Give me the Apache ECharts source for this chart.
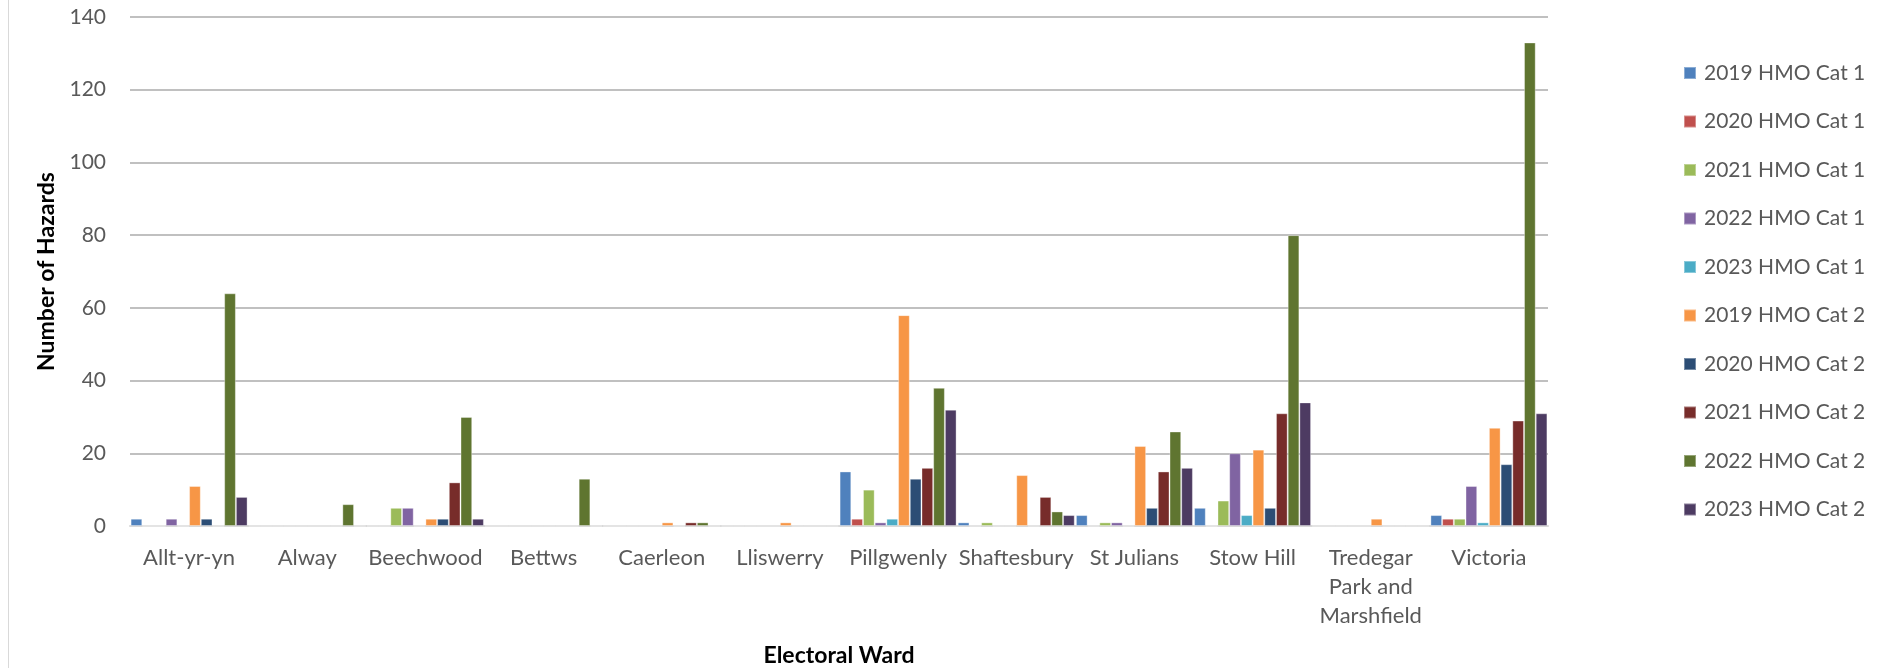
<!DOCTYPE html>
<html>
<head>
<meta charset="utf-8">
<script src="https://cdn.jsdelivr.net/npm/echarts@6/dist/echarts.min.js"></script>
<style>
html,body{margin:0;padding:0;background:#fff;}
#chart{width:1883px;height:668px;}
#border{position:absolute;left:8px;top:0;width:1px;height:668px;background:#D9D9D9;}
</style>
</head>
<body>
<div id="border"></div>
<div id="chart"></div>
<script>
const categories = ['Allt-yr-yn','Alway','Beechwood','Bettws','Caerleon','Lliswerry','Pillgwenly','Shaftesbury','St Julians','Stow Hill','Tredegar\nPark and\nMarshfield','Victoria'];
const seriesNames = ['2019 HMO Cat 1','2020 HMO Cat 1','2021 HMO Cat 1','2022 HMO Cat 1','2023 HMO Cat 1','2019 HMO Cat 2','2020 HMO Cat 2','2021 HMO Cat 2','2022 HMO Cat 2','2023 HMO Cat 2'];
const cat1_2019 = [2,0,0,0,0,0,15,1,3,5,0,3];
const cat1_2020 = [0,0,0,0,0,0,2,0,0,0,0,2];
const cat1_2021 = [0,0,5,0,0,0,10,1,1,7,0,2];
const cat1_2022 = [2,0,5,0,0,0,1,0,1,20,0,11];
const cat1_2023 = [0,0,0,0,0,0,2,0,0,3,0,1];
const cat2_2019 = [11,0,2,0,1,1,58,14,22,21,2,27];
const cat2_2020 = [2,0,2,0,0,0,13,0,5,5,0,17];
const cat2_2021 = [0,0,12,0,1,0,16,8,15,31,0,29];
const cat2_2022 = [64,6,30,13,1,0,38,4,26,80,0,133];
const cat2_2023 = [8,0,2,0,0,0,32,3,16,34,0,31];
const yTicks = [0,20,40,60,80,100,120,140];

const allData = [cat1_2019,cat1_2020,cat1_2021,cat1_2022,cat1_2023,cat2_2019,cat2_2020,cat2_2021,cat2_2022,cat2_2023];
const colors = ['#4F81BD','#C0504D','#9BBB59','#8064A2','#4BACC6','#F79646','#2C4D75','#772C2A','#5F7530','#4D3B62'];
const FONT = 'Lato';

const chart = echarts.init(document.getElementById('chart'), null, {renderer:'canvas'});
chart.setOption({
  animation:false,
  color:colors,
  textStyle:{fontFamily:FONT},
  grid:{left:130,right:335,top:17,bottom:142,containLabel:false,outerBoundsMode:'none'},
  legend:{
    orient:'vertical', left:1678, top:57,
    itemWidth:12, itemHeight:12, itemGap:26.5,
    icon:'rect',
    textStyle:{fontFamily:FONT,fontSize:21,lineHeight:22,color:'#595959',padding:[0,0,0,3]},
    data:seriesNames
  },
  xAxis:{
    type:'category', data:categories,
    axisLine:{lineStyle:{color:'#D9D9D9',width:2}},
    axisTick:{show:false},
    axisLabel:{fontFamily:FONT,fontSize:22,color:'#595959',margin:17,lineHeight:29,interval:0},
    name:'Electoral Ward', nameLocation:'middle', nameGap:118,
    nameTextStyle:{fontFamily:FONT,fontSize:23,fontWeight:'bold',color:'#000'}
  },
  yAxis:{
    type:'value', min:yTicks[0], max:yTicks[yTicks.length-1], interval:20,
    axisLine:{show:false}, axisTick:{show:false},
    axisLabel:{fontFamily:FONT,fontSize:21,color:'#595959',margin:24},
    splitLine:{lineStyle:{color:'#ABABAB',width:1.5}},
    name:'Number of Hazards', nameLocation:'middle', nameGap:70, nameRotate:90,
    nameTextStyle:{fontFamily:FONT,fontSize:23,fontWeight:'bold',color:'#000'}
  },
  series: allData.map((d,i)=>({
    name:seriesNames[i], type:'bar', data:d,
    barGap:'0%', barCategoryGap:'1%',
    itemStyle:{borderColor:'rgba(255,255,255,0.35)',borderWidth:1}
  }))
});
</script>
</body>
</html>
